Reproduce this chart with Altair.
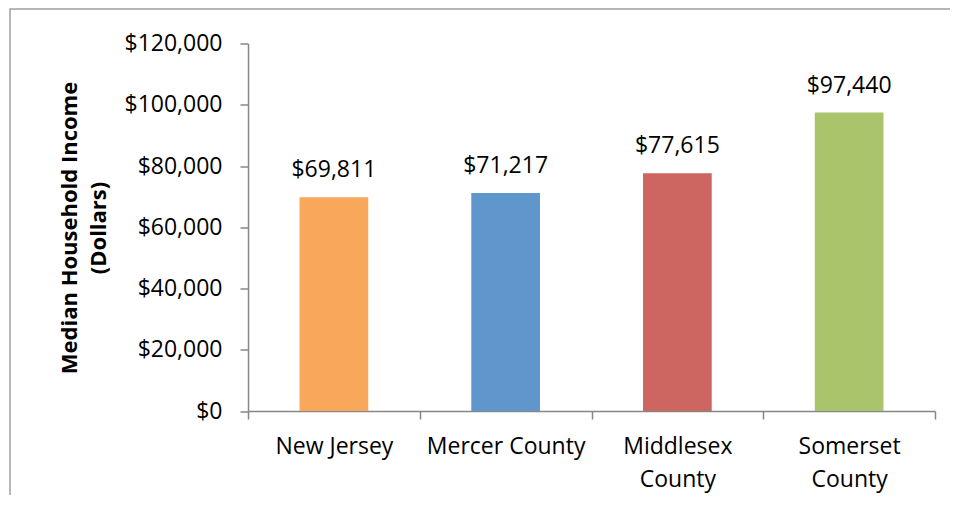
import altair as alt
import pandas as pd

categories = ["New Jersey", "Mercer County", "Middlesex County", "Somerset County"]
incomes = [69811, 71217, 77615, 97440]
bar_colors = ["#F9A75A", "#5F96CB", "#CD6661", "#A9C46A"]
label_lines = [["New Jersey"], ["Mercer County"], ["Middlesex", "County"], ["Somerset", "County"]]
y_ticks = [0, 20000, 40000, 60000, 80000, 100000, 120000]
y_title = ["Median Household Income", "(Dollars)"]

df = pd.DataFrame({"category": categories, "income": incomes})

FONT = "Open Sans"
GRAY = "#868686"

# label expression for multi-line category labels
expr = "datum.label"
for cat, lines in zip(categories, label_lines):
    arr = "[" + ",".join("'" + l + "'" for l in lines) + "]"
    expr = f"datum.label == '{cat}' ? {arr} : ({expr})"

x_enc = alt.X(
    "category:N",
    sort=categories,
    scale=alt.Scale(paddingInner=0, paddingOuter=0),
    axis=alt.Axis(
        title=None, labelAngle=0, labelExpr=expr, labelFont=FONT, labelFontSize=23,
        labelColor="black", labelPadding=16, labelLineHeight=33, tickBand="extent",
        tickSize=8, tickColor=GRAY, domainColor=GRAY, tickWidth=1.5, domainWidth=1.5,
        labelBaseline="top", labelLimit=300,
    ),
)

y_enc = alt.Y(
    "income:Q",
    scale=alt.Scale(domain=[0, 120000], nice=False, zero=True),
    axis=alt.Axis(
        values=y_ticks, format="$,.0f", grid=False, title=y_title, titleFont=FONT,
        titleFontSize=22, titleFontWeight="bold", titleColor="black", titleLineHeight=29,
        titleAngle=-90, titleX=-179, titleY=184, titleBaseline="middle", titleAlign="center",
        labelFont=FONT, labelFontSize=23, labelColor="black", labelPadding=18,
        tickSize=8, tickColor=GRAY, domainColor=GRAY, tickWidth=1.5, domainWidth=1.5,
    ),
)

bars = alt.Chart(df).mark_bar(width=alt.RelativeBandSize(0.4)).encode(
    x=x_enc,
    y=y_enc,
    color=alt.Color("category:N", scale=alt.Scale(domain=categories, range=bar_colors), legend=None),
)

labels = alt.Chart(df).mark_text(
    font=FONT, fontSize=23, color="black", baseline="alphabetic", dy=-20
).encode(
    x=alt.X("category:N", sort=categories),
    y=alt.Y("income:Q"),
    text=alt.Text("income:Q", format="$,.0f"),
)

frame = alt.Chart(pd.DataFrame({"a": [0]})).mark_rect(
    filled=False, stroke="#A0A0A0", strokeWidth=1.5
).encode(
    x=alt.value(-238), x2=alt.value(900), y=alt.value(-34.5), y2=alt.value(700)
)

chart = alt.layer(frame, bars, labels).properties(
    width=687,
    height=367.5,
    padding={"left": 240, "top": 35.5, "right": 15, "bottom": 84},
    autosize=alt.AutoSizeParams(type="none"),
).configure_view(stroke=None)

chart.save("out.html", embed_options={"renderer": "svg", "actions": False})
